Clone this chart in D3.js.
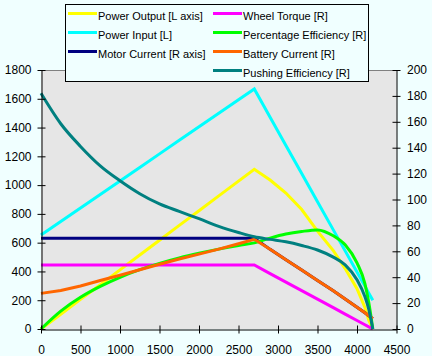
<!DOCTYPE html>
<html><head><meta charset="utf-8">
<script src="https://cdn.jsdelivr.net/npm/d3@7"></script>
<style>
html,body{margin:0;padding:0;background:#f0ffff;}
svg{display:block;}
text{font-family:"Liberation Sans",Arial,sans-serif;fill:#000;}
</style></head><body>
<svg id="c" width="432" height="356"></svg>
<script>
const rpm = [0,250,500,750,1000,1250,1500,1750,2000,2250,2500,2700,2900,3100,3300,3500,3700,3850,4000,4100,4150,4200];
const powerOutput = [0,103,206,308,411,514,617,720,822,925,1028,1110,1035,945,830,680,545,420,280,150,60,0];
const powerInput = [653,747,841,935,1029,1123,1217,1311,1405,1499,1593,1668,1472,1276,1081,885,689,543,396,298,249,200];
const motorCurrent = [70,70,70,70,70,70,70,70,70,70,70,70,61.5,53.5,45.5,37.5,29.5,23.2,16.8,12.5,10.2,8];
const wheelTorque = [49.4,49.4,49.4,49.4,49.4,49.4,49.4,49.4,49.4,49.4,49.4,49.4,42.8,36.2,29.6,23.1,16.5,11.5,6.6,3.3,1.6,0];
const pctEfficiency = [0,13.8,24.5,32.9,39.9,45.8,50.7,54.9,58.5,61.7,64.5,66.5,70.2,73.3,75.3,76.5,72,65,51,35,20,0];
const batteryCurrent = [27.5,29.8,33.2,37.4,41.5,45.8,50.0,54.0,57.8,61.7,65.8,69.3,61.5,53.5,45.5,37.5,29.5,23.2,16.8,12.5,10.2,8];
const pushingEfficiency = [182,158.5,141,126,114.5,104.5,96.6,90.8,85.2,79.3,74.5,71.2,69.2,67.3,64.5,61,55.5,49.5,38,25,15,0];

const xTicks = [0,500,1000,1500,2000,2500,3000,3500,4000,4500];
const leftTicks = [0,200,400,600,800,1000,1200,1400,1600,1800];
const rightTicks = [0,20,40,60,80,100,120,140,160,180,200];

const series = [
  {name:"Power Output [L axis]", values:powerOutput, axis:"L", color:"#ffff00", smooth:false},
  {name:"Power Input [L]", values:powerInput, axis:"L", color:"#00ffff", smooth:false},
  {name:"Motor Current [R axis]", values:motorCurrent, axis:"R", color:"#000080", smooth:false},
  {name:"Wheel Torque [R]", values:wheelTorque, axis:"R", color:"#ff00ff", smooth:false},
  {name:"Percentage Efficiency [R]", values:pctEfficiency, axis:"R", color:"#00ff00", smooth:true},
  {name:"Battery Current [R]", values:batteryCurrent, axis:"R", color:"#ff6600", smooth:false},
  {name:"Pushing Efficiency [R]", values:pushingEfficiency, axis:"R", color:"#008080", smooth:true}
];

const svg = d3.select("#c");
const L = 41, R = 396.5, T = 70, B = 329;
const x = d3.scaleLinear().domain([0,4500]).range([L,R]);
const yL = d3.scaleLinear().domain([0,1800]).range([B,T]);
const yR = d3.scaleLinear().domain([0,200]).range([B,T]);

svg.append("rect").attr("x",L).attr("y",T).attr("width",R-L).attr("height",B-T).attr("fill","#e6e6e6");
svg.append("line").attr("x1",L).attr("x2",R).attr("y1",T+0.5).attr("y2",T+0.5).attr("stroke","#808080");

series.forEach(s=>{
  const ys = s.axis==="L" ? yL : yR;
  const line = d3.line().x((d,i)=>x(rpm[i])).y(d=>ys(d))
    .curve(s.smooth ? d3.curveMonotoneX : d3.curveLinear);
  svg.append("path").datum(s.values).attr("d",line).attr("fill","none")
     .attr("stroke",s.color).attr("stroke-width",3).attr("stroke-linejoin","miter");
});

const fmt = d3.format("d");
function styleAxis(g){
  g.select(".domain").attr("stroke","#000");
  g.selectAll(".tick line").attr("stroke","#000");
  g.selectAll("text").attr("font-size","12px").attr("font-family","'Liberation Sans',Arial,sans-serif").attr("fill","#000");
}
const gL = svg.append("g").attr("transform",`translate(${L+0.5},0)`)
  .call(d3.axisLeft(yL).tickValues(leftTicks).tickFormat(fmt).tickSizeInner(4).tickSizeOuter(0).tickPadding(6));
gL.selectAll(".tick line").attr("x2",-4).attr("x1",4);
styleAxis(gL);
const gR = svg.append("g").attr("transform",`translate(${R},0)`)
  .call(d3.axisRight(yR).tickValues(rightTicks).tickFormat(fmt).tickSizeInner(4).tickSizeOuter(0).tickPadding(6.5));
gR.selectAll(".tick line").attr("x1",-4);
styleAxis(gR);
const gB = svg.append("g").attr("transform",`translate(0,${B+0.5})`)
  .call(d3.axisBottom(x).tickValues(xTicks).tickFormat(fmt).tickSizeInner(4).tickSizeOuter(0).tickPadding(11.5));
gB.selectAll(".tick line").attr("y1",-4);
styleAxis(gB);

// legend
const lg = svg.append("g");
lg.append("rect").attr("x",65.5).attr("y",4.5).attr("width",303).attr("height",77)
  .attr("fill","#f0ffff").attr("stroke","#000");
const cols = [[0,1,2],[3,4,5,6]];
const colX = [68,213];
cols.forEach((idxs,c)=>{
  idxs.forEach((si,r)=>{
    const s = series[si];
    const yy = 13.5 + r*19;
    lg.append("line").attr("x1",colX[c]).attr("x2",colX[c]+29).attr("y1",yy).attr("y2",yy)
      .attr("stroke",s.color).attr("stroke-width",3);
    lg.append("text").attr("x",colX[c]+30).attr("y",yy+6).attr("font-size","11px").text(s.name);
  });
});
</script></body></html>
